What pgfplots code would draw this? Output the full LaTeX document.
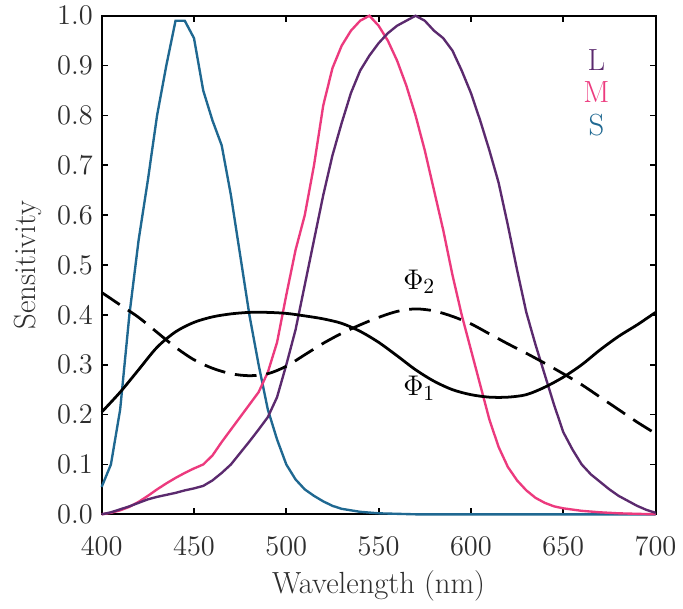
\documentclass[border=0pt]{standalone}
\usepackage{pgfplots}
\pgfplotsset{compat=1.18}
\definecolor{Lc}{HTML}{5B2A6E}
\definecolor{Mc}{HTML}{EC3A7E}
\definecolor{Sc}{HTML}{1F6891}
\definecolor{txt}{HTML}{2E2E2E}
\newcommand{\fs}{\fontsize{15.5}{18}\selectfont}
\begin{document}
\begin{tikzpicture}
\begin{axis}[
  scale only axis, width=280.5pt, height=252.5pt,
  xmin=400, xmax=700, ymin=0, ymax=1,
  xtick={400,450,...,700}, ytick={0,0.1,...,1.0},
  tick align=inside, major tick length=3pt,
  axis line style={line width=1pt}, every tick/.style={black, line width=0.9pt},
  yticklabel style={/pgf/number format/fixed, /pgf/number format/fixed zerofill, /pgf/number format/precision=1},
  tick label style={font=\fs, text=txt},
  xticklabel style={yshift=-8pt},
  yticklabel style={xshift=-1pt},
  label style={font=\fs, text=txt},
  xlabel={Wavelength (nm)}, ylabel={Sensitivity},
  xlabel style={yshift=-1pt}, ylabel style={yshift=1pt},
  clip=false,
]
% S
\addplot[Sc, line width=1.2pt] coordinates {
(400,0.055)(405,0.10)(410,0.21)(415,0.40)(420,0.55)(425,0.67)(430,0.80)(435,0.90)(440,0.99)(445,0.99)(450,0.955)(455,0.85)(460,0.79)(465,0.74)(470,0.64)(475,0.52)(480,0.40)(485,0.30)(490,0.21)(495,0.15)(500,0.10)(505,0.07)(510,0.05)(515,0.037)(520,0.026)(525,0.017)(530,0.011)(540,0.005)(550,0.002)(560,0.001)(570,0)(600,0)(650,0)(700,0)};
% M
\addplot[Mc, line width=1.2pt] coordinates {
(400,0.0)(405,0.003)(410,0.008)(415,0.015)(420,0.025)(425,0.037)(430,0.05)(435,0.062)(440,0.073)(445,0.083)(450,0.092)(455,0.10)(460,0.118)(465,0.145)(470,0.17)(475,0.195)(480,0.22)(485,0.245)(490,0.285)(495,0.345)(500,0.44)(505,0.53)(510,0.60)(515,0.70)(520,0.82)(525,0.895)(530,0.94)(535,0.97)(540,0.99)(545,1.0)(550,0.98)(555,0.95)(560,0.91)(565,0.86)(570,0.80)(575,0.73)(580,0.65)(585,0.57)(590,0.48)(595,0.40)(600,0.33)(605,0.26)(610,0.19)(615,0.135)(620,0.095)(625,0.068)(630,0.048)(635,0.033)(640,0.023)(645,0.016)(650,0.012)(660,0.007)(670,0.004)(680,0.002)(690,0.001)(700,0.0)};
% L
\addplot[Lc, line width=1.2pt] coordinates {
(400,0)(405,0.004)(410,0.01)(415,0.016)(420,0.023)(425,0.03)(430,0.035)(435,0.039)(440,0.043)(445,0.048)(450,0.052)(455,0.057)(460,0.068)(465,0.083)(470,0.10)(475,0.123)(480,0.146)(485,0.17)(490,0.195)(495,0.235)(500,0.30)(505,0.37)(510,0.46)(515,0.55)(520,0.64)(525,0.72)(530,0.785)(535,0.845)(540,0.89)(545,0.92)(550,0.945)(555,0.965)(560,0.98)(565,0.99)(570,1.0)(575,0.99)(580,0.97)(585,0.955)(590,0.93)(595,0.89)(600,0.845)(605,0.79)(610,0.73)(615,0.665)(620,0.58)(625,0.49)(630,0.405)(635,0.34)(640,0.28)(645,0.22)(650,0.165)(655,0.13)(660,0.10)(665,0.08)(670,0.065)(675,0.05)(680,0.037)(685,0.027)(690,0.017)(695,0.009)(700,0.003)};
% Phi1
\addplot[black, line width=1.4pt, smooth] coordinates {
(400,0.205)(410,0.245)(420,0.29)(430,0.335)(440,0.366)(450,0.385)(460,0.396)(470,0.402)(480,0.405)(490,0.405)(500,0.403)(510,0.398)(520,0.392)(530,0.383)(540,0.367)(550,0.345)(560,0.318)(570,0.29)(580,0.267)(590,0.25)(600,0.24)(610,0.235)(620,0.235)(630,0.24)(640,0.255)(650,0.275)(660,0.30)(670,0.33)(680,0.357)(690,0.38)(700,0.405)};
% Phi2
\addplot[black, line width=1.4pt, smooth, dash pattern=on 11pt off 5pt] coordinates {
(400,0.445)(410,0.42)(420,0.395)(430,0.365)(440,0.335)(450,0.31)(460,0.293)(470,0.282)(480,0.278)(490,0.282)(500,0.297)(510,0.32)(520,0.343)(530,0.363)(540,0.38)(550,0.395)(560,0.407)(570,0.412)(580,0.408)(590,0.397)(600,0.382)(610,0.362)(620,0.342)(630,0.323)(640,0.303)(650,0.282)(660,0.26)(670,0.235)(680,0.21)(690,0.185)(700,0.162)};
\node[font=\fs] at (axis cs:572,0.467) {$\Phi_2$};
\node[font=\fs] at (axis cs:572,0.253) {$\Phi_1$};
\node[font=\fs, text=Lc] at (axis cs:668,0.912) {L};
\node[font=\fs, text=Mc] at (axis cs:668,0.846) {M};
\node[font=\fs, text=Sc] at (axis cs:668,0.780) {S};
\end{axis}
\path (-51.5pt,-41pt) rectangle ++(341.5pt,300pt);
\end{tikzpicture}
\end{document}
